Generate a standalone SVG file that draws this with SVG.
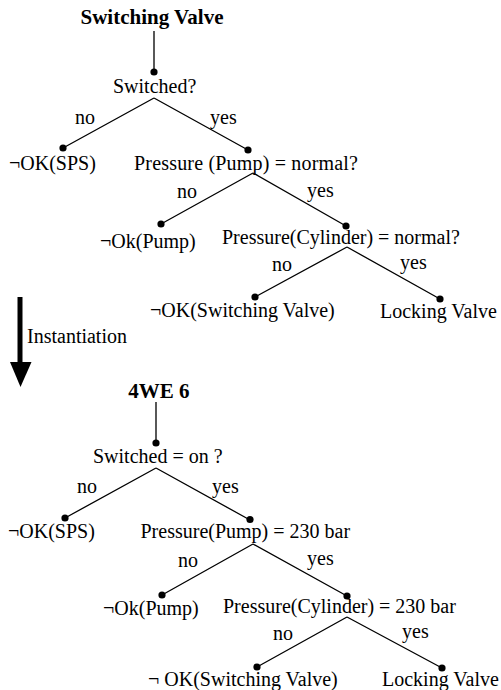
<svg xmlns="http://www.w3.org/2000/svg" width="501" height="690" viewBox="0 0 501 690">
<style>
text{font-family:"Liberation Serif","Times New Roman","DejaVu Serif",serif;font-size:20px;fill:#000}
.t{font-weight:bold;font-size:21px;text-anchor:middle}
.e{stroke:#000;stroke-width:1.3;fill:none}
.d{fill:#000}
</style>
<rect width="501" height="690" fill="#fff"/>
<g id="connectors">
<path class="e" d="M154,31V72 M154,98L63,148 M154,98L248,150 M253,173L161,224 M253,173L346,226 M347,247L255,297 M347,247L440,299"/>
<path class="e" d="M156,402V443 M156,468L65,518 M156,468L250,520 M253,544L162,595 M253,544L347,596 M347,617L257,667 M347,617L442,668"/>
<path d="M20,297V362" stroke="#000" stroke-width="5" fill="none"/>
<polygon points="10,362 31.5,362 20.5,387" fill="#000"/>
</g>
<g id="top-title"><text class="t" x="152" y="24">Switching Valve</text></g>
<g id="top-switched"><circle class="d" cx="154" cy="72" r="3.6"/><text x="113" y="93">Switched?</text></g>
<g id="top-labels1"><text x="75" y="124">no</text><text x="210" y="124">yes</text></g>
<g id="top-notok-sps"><circle class="d" cx="63" cy="148" r="3.6"/><text x="9" y="170">¬OK(SPS)</text></g>
<g id="top-pump"><circle class="d" cx="248" cy="150" r="3.6"/><text x="134" y="169.5" textLength="224">Pressure (Pump) = normal?</text></g>
<g id="top-labels2"><text x="177" y="198">no</text><text x="307" y="197">yes</text></g>
<g id="top-notok-pump"><circle class="d" cx="161" cy="224" r="3.6"/><text x="100" y="248">¬Ok(Pump)</text></g>
<g id="top-cylinder"><circle class="d" cx="346" cy="226" r="3.6"/><text x="222" y="244">Pressure(Cylinder) = normal?</text></g>
<g id="top-labels3"><text x="272" y="271">no</text><text x="400" y="269">yes</text></g>
<g id="top-notok-valve"><circle class="d" cx="255" cy="297" r="3.6"/><text x="150" y="317">¬OK(Switching Valve)</text></g>
<g id="top-locking"><circle class="d" cx="440" cy="299" r="3.6"/><text x="380" y="318">Locking Valve</text></g>
<g id="instantiation"><text x="27" y="343">Instantiation</text></g>
<g id="bot-title"><text class="t" x="159" y="398">4WE 6</text></g>
<g id="bot-switched"><circle class="d" cx="156" cy="443" r="3.6"/><text x="93" y="463">Switched = on ?</text></g>
<g id="bot-labels1"><text x="77" y="493">no</text><text x="212" y="493">yes</text></g>
<g id="bot-notok-sps"><circle class="d" cx="65" cy="518" r="3.6"/><text x="8" y="538">¬OK(SPS)</text></g>
<g id="bot-pump"><circle class="d" cx="250" cy="519.5" r="3.6"/><text x="140.5" y="538">Pressure(Pump) = 230 bar</text></g>
<g id="bot-labels2"><text x="178" y="567">no</text><text x="307" y="565">yes</text></g>
<g id="bot-notok-pump"><circle class="d" cx="162" cy="595" r="3.6"/><text x="103" y="615">¬Ok(Pump)</text></g>
<g id="bot-cylinder"><circle class="d" cx="347" cy="596" r="3.6"/><text x="223" y="613">Pressure(Cylinder) = 230 bar</text></g>
<g id="bot-labels3"><text x="273" y="640">no</text><text x="402" y="638">yes</text></g>
<g id="bot-notok-valve"><circle class="d" cx="257" cy="667" r="3.6"/><text x="148" y="686">¬ OK(Switching Valve)</text></g>
<g id="bot-locking"><circle class="d" cx="442" cy="668" r="3.6"/><text x="382" y="686">Locking Valve</text></g>
</svg>
